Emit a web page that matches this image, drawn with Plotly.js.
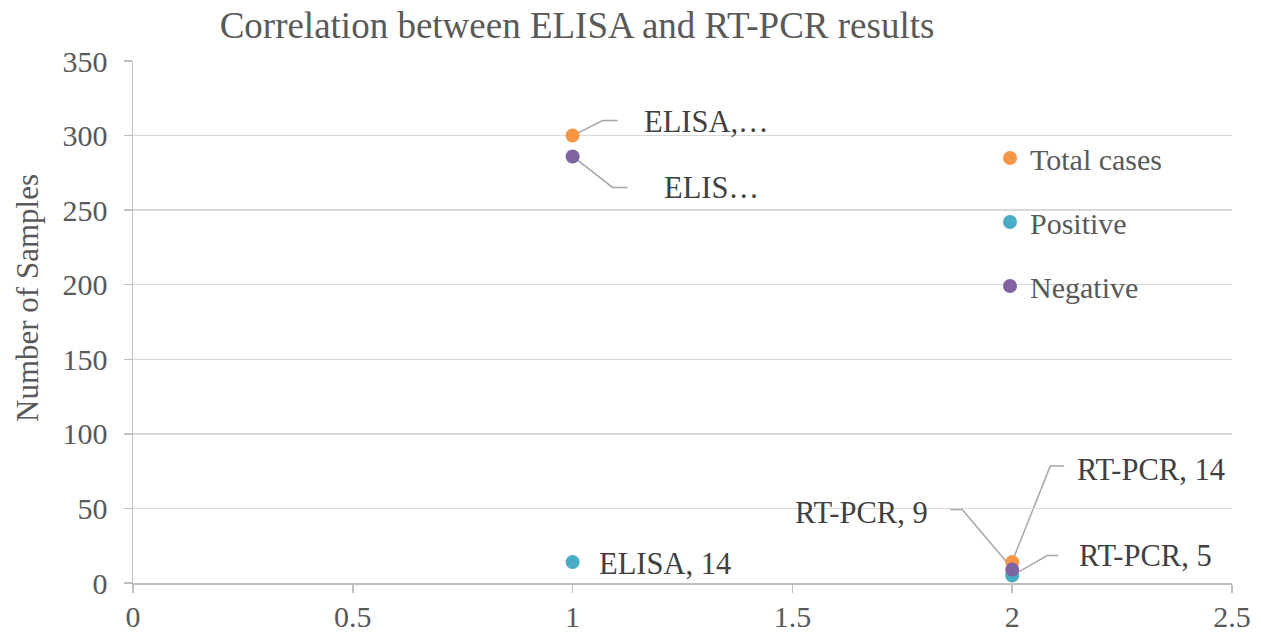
<!DOCTYPE html>
<html>
<head>
<meta charset="utf-8">
<script src="https://cdn.plot.ly/plotly-3.0.1.min.js"></script>
<style>html,body{margin:0;padding:0;background:#fff;}#chart{width:1261px;height:634px;}</style>
</head>
<body>
<div id="chart"></div>
<script>
// ---- data ----
const tests = ["ELISA", "RT-PCR"];
const testX = [1, 2];
const totalCases = [300, 14];
const positive = [14, 5];
const negative = [286, 9];
const seriesNames = ["Total cases", "Positive", "Negative"];
const labelsTotal = ["ELISA,\u2026", "RT-PCR, 14"];
const labelsPositive = ["ELISA, 14", "RT-PCR, 5"];
const labelsNegative = ["ELIS\u2026", "RT-PCR, 9"];
const xTicks = [0, 0.5, 1, 1.5, 2, 2.5];
const yTicks = [0, 50, 100, 150, 200, 250, 300, 350];

const colors = ["#F79646", "#4BACC6", "#8064A2"];
const FONT = '"Liberation Serif", "Times New Roman", serif';

const series = [totalCases, positive, negative];
const labels = [labelsTotal, labelsPositive, labelsNegative];

const traces = series.map((vals, i) => ({
  type: "scatter",
  mode: "markers",
  name: seriesNames[i],
  legendgroup: "g" + i,
  x: testX,
  y: vals,
  marker: {color: colors[i], size: 14},
  hoverinfo: "skip"
}));

// label placement (pixel offsets from the point), leader-line paths in pixels (y up)
const place = [
  [ // total
    {dx: 69, dy: 14, anchor: "left", path: "M 4,2 L 30,15 L 45,15"},
    {dx: 63, dy: 92, anchor: "left", path: "M 1,3 L 38,96 L 52,96"}
  ],
  [ // positive
    {dx: 24, dy: -2, anchor: "left", path: null},
    {dx: 65, dy: 20, anchor: "left", path: "M 2,1 L 35,20 L 46,20"}
  ],
  [ // negative
    {dx: 89, dy: -32, anchor: "left", path: "M 4,-3 L 40,-31 L 55,-31"},
    {dx: -82, dy: 57, anchor: "right", path: "M -1,2 L -50,60 L -62,60"}
  ]
];

const annotations = [];
const shapes = [];
series.forEach((vals, i) => {
  vals.forEach((v, j) => {
    const p = place[i][j];
    annotations.push({
      x: testX[j], y: v, xref: "x", yref: "y",
      text: labels[i][j], showarrow: false,
      xanchor: p.anchor, yanchor: "middle",
      xshift: p.dx, yshift: p.dy,
      font: {family: FONT, size: 30.5, color: "#404040"}
    });
    if (p.path) {
      shapes.push({
        type: "path", xref: "x", yref: "y",
        xsizemode: "pixel", ysizemode: "pixel",
        xanchor: testX[j], yanchor: v,
        path: p.path,
        line: {color: "#A6A6A6", width: 1.5},
        layer: "below"
      });
    }
  });
});

// y axis title
annotations.push({
  xref: "paper", yref: "paper",
  x: (27 - 133) / 1099, y: (583 - 298) / 522,
  text: "Number of Samples", textangle: -90, showarrow: false,
  xanchor: "center", yanchor: "middle",
  font: {family: FONT, size: 31, color: "#595959"}
});

const layout = {
  width: 1261, height: 634,
  margin: {l: 133, r: 29, t: 61, b: 51, pad: 0},
  paper_bgcolor: "#ffffff", plot_bgcolor: "#ffffff",
  font: {family: FONT, size: 30, color: "#595959"},
  title: {
    text: "Correlation between ELISA and RT-PCR results",
    font: {family: FONT, size: 37, color: "#595959"},
    xref: "container", yref: "container",
    x: 577 / 1261, xanchor: "center",
    y: 1 - 25 / 634, yanchor: "middle"
  },
  xaxis: {
    range: [0, 2.5], tickvals: xTicks, ticktext: xTicks.map(String),
    showgrid: false, zeroline: false,
    showline: true, linecolor: "#BFBFBF", linewidth: 1.5,
    ticks: "outside", ticklen: 8, tickcolor: "#BFBFBF", tickwidth: 1.5,
    tickfont: {family: FONT, size: 30, color: "#595959"},
    ticklabelstandoff: -2,
    fixedrange: true
  },
  yaxis: {
    range: [0, 350], tickvals: yTicks, ticktext: yTicks.map(String),
    showgrid: true, gridcolor: "#D9D9D9", gridwidth: 1.5,
    zeroline: false,
    showline: true, linecolor: "#BFBFBF", linewidth: 1.5,
    ticks: "outside", ticklen: 8, tickcolor: "#BFBFBF", tickwidth: 1.5,
    tickfont: {family: FONT, size: 30, color: "#595959"},
    ticklabelstandoff: 10,
    fixedrange: true
  },
  showlegend: true,
  legend: {
    x: (990 - 133) / 1099, y: (583 - 132) / 522,
    xanchor: "left", yanchor: "top",
    bgcolor: "rgba(0,0,0,0)",
    traceorder: "grouped", tracegroupgap: 22,
    font: {family: FONT, size: 30, color: "#595959"}
  },
  annotations: annotations,
  shapes: shapes,
  hovermode: false
};

Plotly.newPlot("chart", traces, layout, {staticPlot: true, displayModeBar: false});
</script>
</body>
</html>
